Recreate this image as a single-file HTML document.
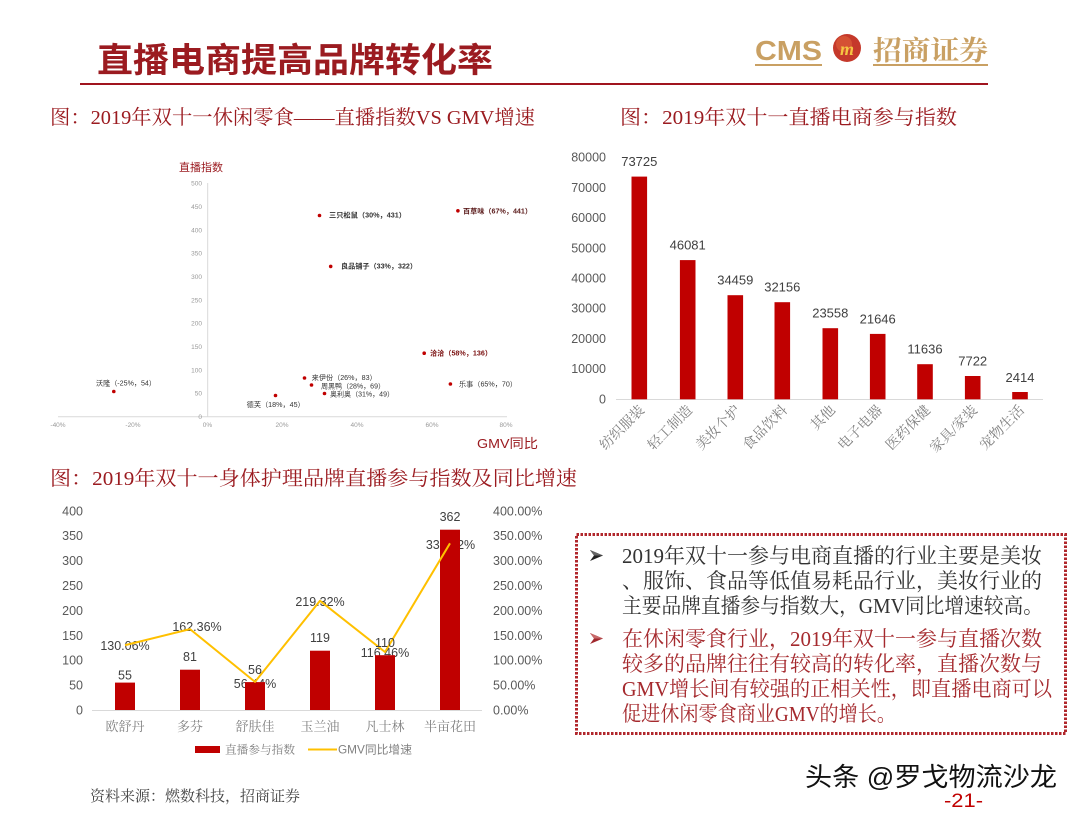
<!DOCTYPE html>
<html><head><meta charset="utf-8"><style>
html,body{margin:0;padding:0;background:#fff;}
svg{display:block;}
.sans{font-family:"Liberation Sans","Noto Sans CJK SC",sans-serif;}
.serif{font-family:"Liberation Serif","Noto Serif CJK SC",serif;}
</style></head><body>
<svg width="1080" height="814" viewBox="0 0 1080 814" xmlns="http://www.w3.org/2000/svg">
<rect width="1080" height="814" fill="#fff"/>

<!-- Header -->
<text x="97" y="72" class="sans" font-size="34" font-weight="bold" fill="#9B1B20" textLength="396" lengthAdjust="spacingAndGlyphs">直播电商提高品牌转化率</text>
<rect x="80" y="83" width="908" height="2" fill="#A0141E"/>
<text x="755" y="60" class="sans" font-size="28" font-weight="bold" fill="#C9A063" textLength="67" lengthAdjust="spacingAndGlyphs">CMS</text>
<rect x="755" y="64" width="67" height="2" fill="#C9A063"/>
<circle cx="847" cy="48" r="14" fill="#C5392B"/>
<circle cx="844" cy="44" r="8" fill="#E0623A" opacity="0.6"/>
<text x="847" y="55" class="serif" font-size="18" font-weight="bold" font-style="italic" fill="#F5C542" text-anchor="middle">m</text>
<text x="873" y="60" class="serif" font-size="27" font-weight="bold" fill="#C9A063" textLength="115" lengthAdjust="spacingAndGlyphs">招商证券</text>
<rect x="873" y="64" width="115" height="2" fill="#C9A063"/>

<!-- Subtitles -->
<text x="50" y="124" class="serif" font-size="20" fill="#9B1B20" textLength="485" lengthAdjust="spacingAndGlyphs">图：2019年双十一休闲零食——直播指数VS GMV增速</text>
<text x="620" y="124" class="serif" font-size="20" fill="#9B1B20" textLength="337" lengthAdjust="spacingAndGlyphs">图：2019年双十一直播电商参与指数</text>
<text x="50" y="485" class="serif" font-size="20" fill="#9B1B20" textLength="527" lengthAdjust="spacingAndGlyphs">图：2019年双十一身体护理品牌直播参与指数及同比增速</text>

<!-- Scatter chart -->
<g class="sans">
<text x="179" y="171" font-size="11" fill="#9B1B20" textLength="44" lengthAdjust="spacingAndGlyphs">直播指数</text>
<line x1="207.7" y1="183" x2="207.7" y2="416.7" stroke="#D9D9D9" stroke-width="1"/>
<line x1="58" y1="416.7" x2="507" y2="416.7" stroke="#D9D9D9" stroke-width="1"/>
<g font-size="6.5" fill="#999" text-anchor="end">
<text x="202" y="419">0</text>
<text x="202" y="395.7">50</text>
<text x="202" y="372.3">100</text>
<text x="202" y="349">150</text>
<text x="202" y="325.6">200</text>
<text x="202" y="302.3">250</text>
<text x="202" y="279">300</text>
<text x="202" y="255.6">350</text>
<text x="202" y="232.3">400</text>
<text x="202" y="208.9">450</text>
<text x="202" y="185.6">500</text>
</g>
<g font-size="6.5" fill="#999" text-anchor="middle">
<text x="58" y="427">-40%</text>
<text x="133" y="427">-20%</text>
<text x="207.5" y="427">0%</text>
<text x="282" y="427">20%</text>
<text x="357" y="427">40%</text>
<text x="432" y="427">60%</text>
<text x="506" y="427">80%</text>
</g>
<text x="477" y="448" font-size="13" fill="#9B1B20" textLength="61" lengthAdjust="spacingAndGlyphs">GMV同比</text>
<g fill="#C00000">
<circle cx="319.5" cy="215.5" r="1.8"/>
<circle cx="457.9" cy="210.8" r="1.8"/>
<circle cx="330.7" cy="266.4" r="1.8"/>
<circle cx="424.2" cy="353.2" r="1.8"/>
<circle cx="450.4" cy="384" r="1.8"/>
<circle cx="304.5" cy="378" r="1.8"/>
<circle cx="311.5" cy="385" r="1.8"/>
<circle cx="324.5" cy="393.5" r="1.8"/>
<circle cx="275.5" cy="395.5" r="1.8"/>
<circle cx="113.8" cy="391.5" r="1.8"/>
</g>
<g font-size="7" fill="#333">
<text x="329" y="217.5" font-weight="bold" textLength="77" lengthAdjust="spacingAndGlyphs">三只松鼠（30%，431）</text>
<text x="463" y="213.5" font-weight="bold" fill="#5a1a1a" textLength="69" lengthAdjust="spacingAndGlyphs">百草味（67%，441）</text>
<text x="341" y="268.5" font-weight="bold" textLength="76" lengthAdjust="spacingAndGlyphs">良品铺子（33%，322）</text>
<text x="430" y="355.5" font-weight="bold" fill="#7a1010" textLength="62" lengthAdjust="spacingAndGlyphs">洽洽（58%，136）</text>
<text x="459" y="386.5" textLength="58" lengthAdjust="spacingAndGlyphs">乐事（65%，70）</text>
<text x="311.7" y="380" textLength="65" lengthAdjust="spacingAndGlyphs">来伊份（26%，83）</text>
<text x="321" y="388.3" textLength="64" lengthAdjust="spacingAndGlyphs">周黑鸭（28%，69）</text>
<text x="330" y="396.5" textLength="64" lengthAdjust="spacingAndGlyphs">奥利奥（31%，49）</text>
<text x="246.7" y="407" textLength="58" lengthAdjust="spacingAndGlyphs">德芙（18%，45）</text>
<text x="96" y="385.5" textLength="60" lengthAdjust="spacingAndGlyphs">沃隆（-25%，54）</text>
</g>
</g>

<!-- Right bar chart -->
<g class="sans">
<g font-size="12.5" fill="#595959" text-anchor="end">
<text x="606" y="403.3">0</text>
<text x="606" y="373.1">10000</text>
<text x="606" y="342.9">20000</text>
<text x="606" y="312.7">30000</text>
<text x="606" y="282.5">40000</text>
<text x="606" y="252.3">50000</text>
<text x="606" y="222.1">60000</text>
<text x="606" y="191.9">70000</text>
<text x="606" y="161.7">80000</text>
</g>
<line x1="616" y1="399.5" x2="1043" y2="399.5" stroke="#D9D9D9" stroke-width="1"/>
<g fill="#C00000">
<rect x="631.5" y="176.6" width="15.6" height="222.7"/>
<rect x="679.9" y="260.1" width="15.6" height="139.2"/>
<rect x="727.5" y="295.2" width="15.6" height="104.1"/>
<rect x="774.5" y="302.2" width="15.6" height="97.1"/>
<rect x="822.5" y="328.2" width="15.6" height="71.1"/>
<rect x="869.9" y="333.9" width="15.6" height="65.4"/>
<rect x="917.2" y="364.2" width="15.6" height="35.1"/>
<rect x="964.9" y="376" width="15.6" height="23.3"/>
<rect x="1012.2" y="392" width="15.6" height="7.3"/>
</g>
<g font-size="13" fill="#404040" text-anchor="middle">
<text x="639.3" y="166.2">73725</text>
<text x="687.7" y="249.6">46081</text>
<text x="735.3" y="284.7">34459</text>
<text x="782.3" y="291.7">32156</text>
<text x="830.3" y="317.7">23558</text>
<text x="877.7" y="323.4">21646</text>
<text x="925" y="353.7">11636</text>
<text x="972.7" y="365.5">7722</text>
<text x="1020" y="381.8">2414</text>
</g>
</g>
<g class="serif" font-size="14" fill="#7F7F7F" text-anchor="end">
<text transform="translate(645,411) rotate(-45)">纺织服装</text>
<text transform="translate(693,411) rotate(-45)">轻工制造</text>
<text transform="translate(741,411) rotate(-45)">美妆个护</text>
<text transform="translate(788,411) rotate(-45)">食品饮料</text>
<text transform="translate(836,411) rotate(-45)">其他</text>
<text transform="translate(883,411) rotate(-45)">电子电器</text>
<text transform="translate(931,411) rotate(-45)">医药保健</text>
<text transform="translate(978,411) rotate(-45)">家具/家装</text>
<text transform="translate(1025,411) rotate(-45)">宠物生活</text>
</g>

<!-- Bottom-left combo chart -->
<g class="sans">
<g font-size="12.5" fill="#595959" text-anchor="end">
<text x="83" y="714.5">0</text>
<text x="83" y="689.6">50</text>
<text x="83" y="664.7">100</text>
<text x="83" y="639.8">150</text>
<text x="83" y="614.9">200</text>
<text x="83" y="590">250</text>
<text x="83" y="565.1">300</text>
<text x="83" y="540.2">350</text>
<text x="83" y="515.3">400</text>
</g>
<g font-size="12.5" fill="#595959">
<text x="493" y="714.5">0.00%</text>
<text x="493" y="689.6">50.00%</text>
<text x="493" y="664.7">100.00%</text>
<text x="493" y="639.8">150.00%</text>
<text x="493" y="614.9">200.00%</text>
<text x="493" y="590">250.00%</text>
<text x="493" y="565.1">300.00%</text>
<text x="493" y="540.2">350.00%</text>
<text x="493" y="515.3">400.00%</text>
</g>
<line x1="92" y1="710.5" x2="482" y2="710.5" stroke="#D9D9D9" stroke-width="1"/>
<g font-size="12.5" fill="#404040" text-anchor="middle">
<text x="125" y="650">130.06%</text>
<text x="197" y="631">162.36%</text>
<text x="255" y="688">56.44%</text>
<text x="320" y="606">219.32%</text>
<text x="385" y="657">116.46%</text>
<text x="450.5" y="549">334.72%</text>
</g>
<g fill="#C00000">
<rect x="115" y="682.6" width="20" height="27.4"/>
<rect x="180" y="669.7" width="20" height="40.3"/>
<rect x="245" y="682.1" width="20" height="27.9"/>
<rect x="310" y="650.7" width="20" height="59.3"/>
<rect x="375" y="655.2" width="20" height="54.8"/>
<rect x="440" y="529.7" width="20" height="180.3"/>
</g>
<polyline points="125,645.2 190,629.1 255,681.9 320,600.8 385,652 450,543.3" fill="none" stroke="#FFC000" stroke-width="2" stroke-linejoin="round"/>
<g font-size="12.5" fill="#404040" text-anchor="middle">
<text x="125" y="679.5">55</text>
<text x="190" y="661.2">81</text>
<text x="255" y="673.8">56</text>
<text x="320" y="642.2">119</text>
<text x="385" y="647.2">110</text>
<text x="450" y="521.2">362</text>
</g>
</g>
<g class="serif" font-size="13" fill="#7F7F7F" text-anchor="middle">
<text x="125" y="731">欧舒丹</text>
<text x="190" y="731">多芬</text>
<text x="255" y="731">舒肤佳</text>
<text x="320" y="731">玉兰油</text>
<text x="385" y="731">凡士林</text>
<text x="450" y="731">半亩花田</text>
</g>
<rect x="195" y="746" width="25" height="7" fill="#C00000"/>
<text x="225" y="753.5" class="serif" font-size="11.5" fill="#7F7F7F" textLength="70" lengthAdjust="spacingAndGlyphs">直播参与指数</text>
<line x1="308" y1="749.5" x2="337" y2="749.5" stroke="#FFC000" stroke-width="2"/>
<text x="338" y="753.5" class="sans" font-size="11.5" fill="#7F7F7F" textLength="74" lengthAdjust="spacingAndGlyphs">GMV同比增速</text>

<!-- Text box -->
<rect x="576.5" y="534.5" width="489" height="199" fill="none" stroke="#B0262B" stroke-width="3" stroke-dasharray="2.5 1.5"/>
<polygon points="590,550 603,555.5 590,561 594,555.5" fill="#222"/>
<polygon points="590,550 603,555.5 594,555.5" fill="#666"/>
<polygon points="590,633 603,638.5 590,644 594,638.5" fill="#A0282D"/>
<polygon points="590,633 603,638.5 594,638.5" fill="#C86a6a"/>
<g class="serif" font-size="21">
<text x="622" y="563" fill="#333" textLength="420" lengthAdjust="spacingAndGlyphs">2019年双十一参与电商直播的行业主要是美妆</text>
<text x="622" y="588" fill="#333" textLength="420" lengthAdjust="spacingAndGlyphs">、服饰、食品等低值易耗品行业，美妆行业的</text>
<text x="622" y="613" fill="#333" textLength="421" lengthAdjust="spacingAndGlyphs">主要品牌直播参与指数大，GMV同比增速较高。</text>
<text x="622" y="646" fill="#A52A2E" textLength="420" lengthAdjust="spacingAndGlyphs">在休闲零食行业，2019年双十一参与直播次数</text>
<text x="622" y="671" fill="#A52A2E" textLength="420" lengthAdjust="spacingAndGlyphs">较多的品牌往往有较高的转化率，直播次数与</text>
<text x="622" y="696" fill="#A52A2E" textLength="430" lengthAdjust="spacingAndGlyphs">GMV增长间有较强的正相关性，即直播电商可以</text>
<text x="622" y="721" fill="#A52A2E" textLength="274" lengthAdjust="spacingAndGlyphs">促进休闲零食商业GMV的增长。</text>
</g>

<!-- Footer -->
<text x="90" y="801" class="serif" font-size="15" fill="#444" textLength="210" lengthAdjust="spacingAndGlyphs">资料来源：燃数科技，招商证券</text>
<text x="805" y="786" class="sans" font-size="26" fill="#111" stroke="#fff" stroke-width="0.6" paint-order="stroke" textLength="252" lengthAdjust="spacingAndGlyphs">头条 @罗戈物流沙龙</text>
<text x="944" y="807" class="sans" font-size="19" fill="#C00000" textLength="39" lengthAdjust="spacingAndGlyphs">-21-</text>
</svg>
</body></html>
